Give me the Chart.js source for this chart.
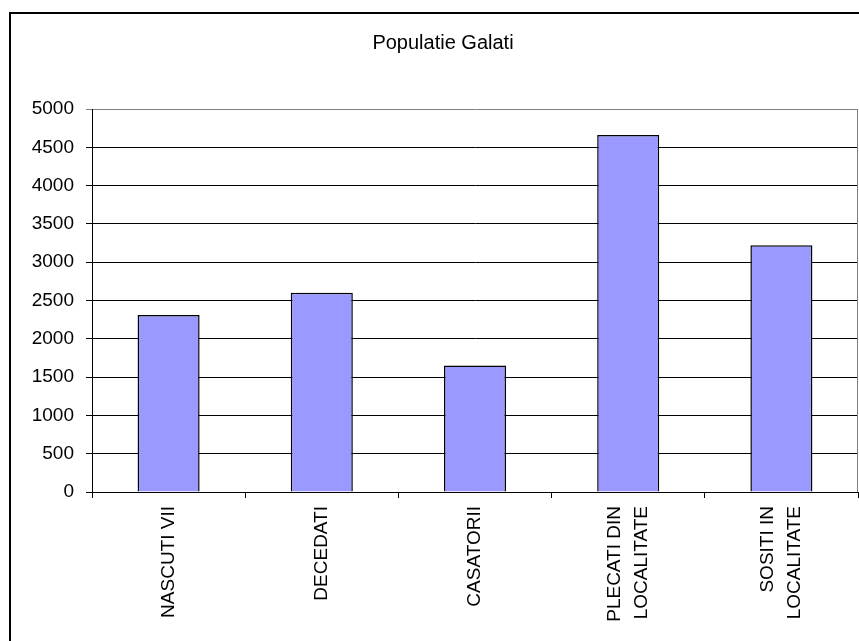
<!DOCTYPE html>
<html>
<head>
<meta charset="utf-8">
<script src="https://cdn.jsdelivr.net/npm/chart.js@4/dist/chart.umd.min.js"></script>
<style>
  html, body { margin: 0; padding: 0; background: #ffffff; }
  canvas { display: block; }
</style>
</head>
<body>
<canvas id="c" width="859" height="641"></canvas>
<script>
// Categories (multi-line where the label wraps)
const categories = [
  "NASCUTI VII",
  "DECEDATI",
  "CASATORII",
  ["PLECATI DIN", "LOCALITATE"],
  ["SOSITI IN", "LOCALITATE"]
];
// Values per category
const populationValues = [2310, 2600, 1650, 4660, 3220];
// Value axis ticks
const yTickValues = [0, 500, 1000, 1500, 2000, 2500, 3000, 3500, 4000, 4500, 5000];
const chartTitle = "Populatie Galati";

const FONT = "'Liberation Sans', Arial, sans-serif";

// Centre multi-line rotated category labels on their tick
const centerMultiline = {
  id: 'centerMultiline',
  beforeDraw(chart) {
    const sx = chart.scales.x;
    const items = sx.getLabelItems();
    items.forEach(it => {
      if (it._centered) return;
      const n = Array.isArray(it.label) ? it.label.length : 1;
      if (n > 1) {
        it.options.translation[0] -= (n - 1) * it.font.lineHeight / 2;
      }
      it._centered = true;
    });
  }
};

// Plot area right edge and outer frame
const frames = {
  id: 'frames',
  beforeDatasetsDraw(chart) {
    const { ctx, chartArea: a } = chart;
    ctx.save();
    ctx.strokeStyle = '#808080';
    ctx.lineWidth = 1;
    ctx.beginPath();
    ctx.moveTo(Math.round(a.right) - 0.5, Math.round(a.top) + 0.5);
    ctx.lineTo(Math.round(a.right) - 0.5, Math.round(a.bottom));
    ctx.stroke();
    ctx.restore();
  },
  afterDraw(chart) {
    const { ctx } = chart;
    ctx.save();
    ctx.strokeStyle = '#000000';
    ctx.lineWidth = 2;
    ctx.strokeRect(10, 13, 900, 700);
    ctx.restore();
  }
};

new Chart(document.getElementById('c'), {
  type: 'bar',
  data: {
    labels: categories,
    datasets: [{
      data: populationValues,
      backgroundColor: '#9999FF',
      borderColor: '#000000',
      borderWidth: 1.5,
      categoryPercentage: 1.0,
      barPercentage: 0.405
    }]
  },
  plugins: [centerMultiline, frames],
  options: {
    responsive: false,
    animation: false,
    devicePixelRatio: 1,
    layout: { padding: { left: 28, right: 1, top: 0, bottom: 0 } },
    plugins: {
      legend: { display: false },
      tooltip: { enabled: false },
      title: {
        display: true,
        text: chartTitle,
        color: '#000000',
        font: { family: FONT, size: 20, weight: 'normal', lineHeight: 1.2 },
        padding: { top: 31, bottom: 54 }
      }
    },
    scales: {
      x: {
        offset: true,
        grid: {
          offset: true,
          drawOnChartArea: false,
          drawTicks: true,
          tickLength: 6,
          color: '#000000',
          lineWidth: 1
        },
        border: { display: true, color: '#000000', width: 1 },
        ticks: {
          autoSkip: false,
          minRotation: 90,
          maxRotation: 90,
          padding: 8,
          color: '#000000',
          font: { family: FONT, size: 19, lineHeight: 1.42 }
        },
        afterFit(s) { s.height = 149; }
      },
      y: {
        min: 0,
        max: 5000,
        afterBuildTicks(s) { s.ticks = yTickValues.map(v => ({ value: v })); },
        grid: {
          drawTicks: true,
          tickLength: 6,
          lineWidth: 1,
          color(ctx) { return ctx.tick && ctx.tick.value === 5000 ? '#808080' : '#000000'; }
        },
        border: { display: true, color: '#000000', width: 1 },
        ticks: {
          padding: 12,
          color: '#000000',
          font: { family: FONT, size: 19 },
          callback(v) { return String(v); }
        },
        afterFit(s) { s.width = 64; }
      }
    }
  }
});
</script>
</body>
</html>
